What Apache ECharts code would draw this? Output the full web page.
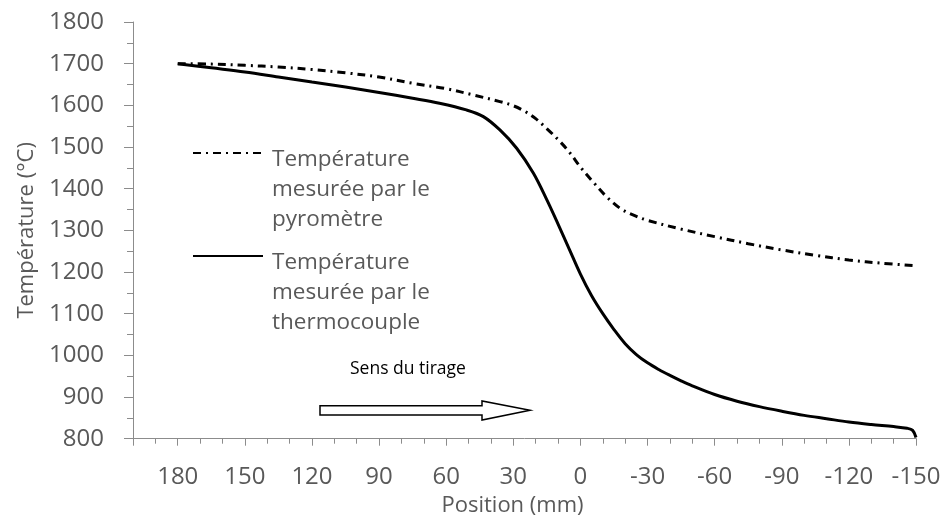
<!DOCTYPE html>
<html><head><meta charset="utf-8">
<script src="https://cdn.jsdelivr.net/npm/echarts@6/dist/echarts.min.js"></script>
<style>html,body{margin:0;padding:0;background:#fff}#c{width:946px;height:522px}</style>
</head><body><div id="c"></div>
<script>
// ---- data ----
const pyroPos  = [180, 165, 150, 135, 120, 105, 90, 75, 60, 48, 36, 30, 25, 20, 15, 10, 5, 0, -6, -12, -18, -24, -30, -45, -60, -75, -90, -105, -120, -135, -150];
const pyroTemp = [1700, 1699, 1696, 1692, 1686, 1678, 1668, 1653, 1640, 1625, 1609, 1599, 1586, 1568, 1544, 1518, 1488, 1452, 1414, 1379, 1352, 1336, 1324, 1303, 1285, 1268, 1253, 1240, 1229, 1221, 1215];
const thermoPos  = [180, 165, 150, 135, 120, 105, 90, 75, 63, 51, 43.4, 36, 28.5, 21, 15, 10, 5, 0, -5, -10, -15, -20, -25, -30, -35, -40, -45, -50, -60, -70, -80, -90, -100, -110, -120, -130, -140, -146, -148.5, -150];
const thermoTemp = [1700, 1690, 1680, 1668, 1656, 1644, 1631, 1617, 1605, 1589, 1573, 1541, 1497, 1437, 1373, 1315, 1255, 1195, 1143, 1100, 1062, 1028, 1002, 982, 966, 952, 939, 927, 906, 890, 877, 866, 856, 848, 840, 834, 829, 825, 820, 803];
const seriesNames = ['Température mesurée par le pyromètre', 'Température mesurée par le thermocouple'];
const legendLines = {
  'Température mesurée par le pyromètre': ['Température', 'mesurée par le', 'pyromètre'],
  'Température mesurée par le thermocouple': ['Température', 'mesurée par le', 'thermocouple']
};
const xTitle = 'Position (mm)';
const yTitle = 'Température (°C)';
const annotationText = 'Sens du tirage';

// ---- style ----
const FONT = '"Open Sans", "Liberation Sans", sans-serif';
const TXT = '#595959';
const AXIS = '#8c8c8c';

const chart = echarts.init(document.getElementById('c'), null, {renderer: 'canvas'});

function legendCfg(name, top) {
  return {
    data: [name], left: 192, top: top, orient: 'vertical', padding: 0,
    itemWidth: 70, itemHeight: 14, itemGap: 0, selectedMode: false,
    itemStyle: {opacity: 0},
    formatter: n => '{g| }\n' + legendLines[n].map(s => '{t|' + s + '}').join('\n'),
    textStyle: {
      fontSize: 22, color: TXT, fontFamily: FONT,
      rich: {
        g: {lineHeight: 74, fontSize: 10},
        t: {lineHeight: 30, fontSize: 22.5, color: TXT, fontFamily: FONT, padding: [0, 0, 0, 4]}
      }
    }
  };
}

chart.setOption({
  animation: false,
  backgroundColor: '#fff',
  textStyle: {fontFamily: FONT},
  grid: {left: 133, right: 30, top: 22, bottom: 83.3, containLabel: false},
  legend: [legendCfg(seriesNames[0], 103), legendCfg(seriesNames[1], 206)],
  xAxis: [{
    type: 'value', min: -150, max: 200, interval: 10, inverse: true, position: 'bottom',
    axisLine: {show: true, onZero: false, lineStyle: {color: AXIS, width: 1}},
    axisTick: {show: true, length: 5, lineStyle: {color: AXIS}},
    axisLabel: {show: false}, splitLine: {show: false}
  }, {
    type: 'value', min: -150, max: 200, interval: 30, inverse: true, position: 'bottom',
    axisLine: {show: false, onZero: false},
    axisTick: {show: true, length: 7, lineStyle: {color: AXIS}},
    axisLabel: {margin: 26, fontSize: 24, color: TXT, fontFamily: FONT,
      formatter: v => (v === 200 ? '' : String(v))},
    splitLine: {show: false},
    name: xTitle, nameLocation: 'middle', nameGap: 56,
    nameTextStyle: {fontSize: 22, color: TXT, fontFamily: FONT, padding: [0, 24, 0, 0]}
  }],
  yAxis: {
    type: 'value', min: 800, max: 1800, interval: 100,
    axisLine: {show: true, onZero: false, lineStyle: {color: AXIS, width: 1}},
    axisTick: {show: true, length: 9, lineStyle: {color: AXIS}},
    minorTick: {show: true, splitNumber: 2, length: 6, lineStyle: {color: AXIS}},
    axisLabel: {margin: 29, fontSize: 24, color: TXT, fontFamily: FONT, formatter: v => String(v)},
    splitLine: {show: false},
    name: yTitle, nameLocation: 'middle', nameGap: 92,
    nameTextStyle: {fontSize: 22, color: TXT, fontFamily: FONT}
  },
  series: [{
    name: seriesNames[0], type: 'line', xAxisIndex: 0, symbol: 'none', smooth: 0.35, silent: true,
    data: pyroPos.map((p, i) => [p, pyroTemp[i]]),
    itemStyle: {color: '#000'},
    lineStyle: {color: '#000', width: 3, type: [8, 5, 2, 5]}
  }, {
    name: seriesNames[1], type: 'line', xAxisIndex: 0, symbol: 'none', smooth: 0.35, silent: true,
    data: thermoPos.map((p, i) => [p, thermoTemp[i]]),
    itemStyle: {color: '#000'},
    lineStyle: {color: '#000', width: 3, type: 'solid'}
  }],
  graphic: [{
    type: 'polygon', silent: true,
    shape: {points: [[320, 405.7], [482, 405.7], [482, 401], [530, 410.3], [482, 420], [482, 415], [320, 415]]},
    style: {fill: '#fff', stroke: '#000', lineWidth: 1.5}
  }, {
    type: 'text', left: 350, top: 360, silent: true,
    style: {text: annotationText, fontSize: 17.5, fill: '#000', fontFamily: FONT}
  }]
});
</script>
</body></html>
